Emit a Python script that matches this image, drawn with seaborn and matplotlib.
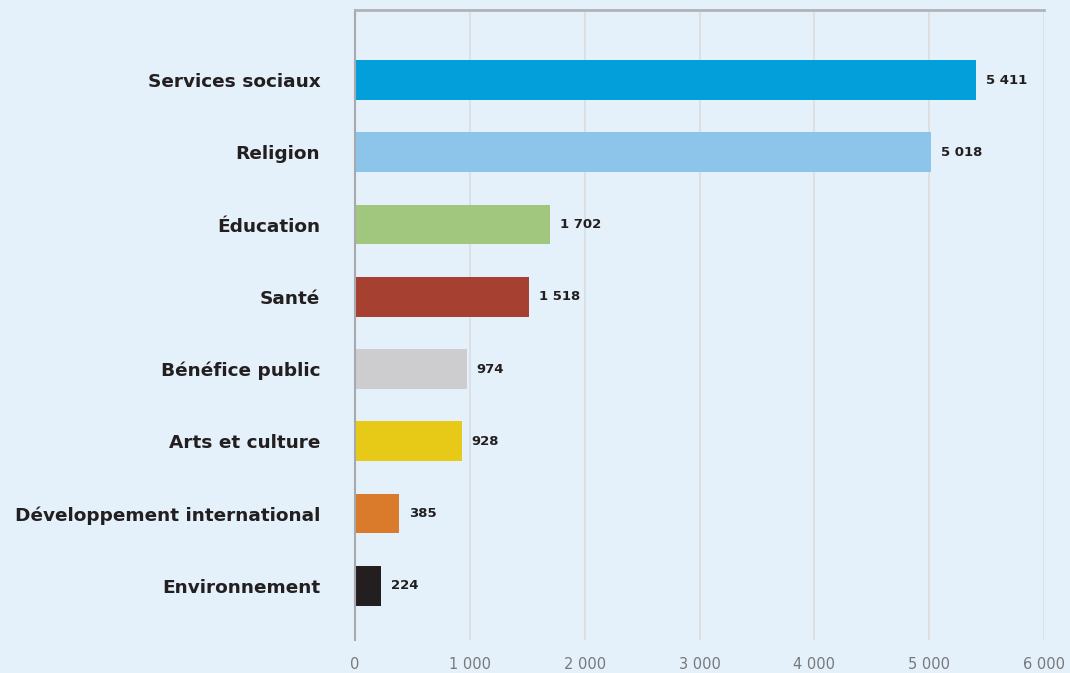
import matplotlib
matplotlib.use("Agg")
import matplotlib.pyplot as plt
import seaborn as sns
import pandas as pd

categories = ["Services sociaux", "Religion", "Éducation", "Santé", "Bénéfice public",
              "Arts et culture", "Développement international", "Environnement"]
values = [5411, 5018, 1702, 1518, 974, 928, 385, 224]
value_labels = ["5 411", "5 018", "1 702", "1 518", "974", "928", "385", "224"]
colors = ["#039FDB", "#8DC4EA", "#A1C77E", "#A64132", "#CDCDCF", "#E6CA17", "#D97B2A", "#231F20"]
ticks = [0, 1000, 2000, 3000, 4000, 5000, 6000]
tick_labels = ["0", "1 000", "2 000", "3 000", "4 000", "5 000", "6 000"]

bg = "#E4F1FA"
sns.set_style("white")
plt.rcParams['font.family'] = ['DejaVu Sans']

df = pd.DataFrame({"cat": categories, "val": values})

fig = plt.figure(figsize=(10.7, 6.73), dpi=100, facecolor=bg)
ax = fig.add_axes([0.3318, 0.049, 0.9757 - 0.3318, 0.9851 - 0.049])
ax.set_facecolor(bg)

sns.barplot(data=df, x="val", y="cat", hue="cat", palette=colors, legend=False,
            width=0.55, saturation=1, linewidth=0, ax=ax)

ax.set_xlim(0, 6000)
ax.set_ylim(7.75, -0.97)
ax.set_xticks(ticks)
ax.set_xticklabels(tick_labels, color="#77787B", fontsize=10.5)
ax.tick_params(axis="x", length=0, pad=12)
ax.tick_params(axis="y", length=0, pad=25)
for lbl in ax.get_yticklabels():
    lbl.set_fontweight("bold")
    lbl.set_fontsize(13.3)
    lbl.set_color("#231F20")

ax.grid(axis="x", color="#DCDDDF", linewidth=1.2)
ax.set_axisbelow(True)
for s in ["right", "bottom"]:
    ax.spines[s].set_visible(False)
ax.spines["left"].set_color("#A7A9AC")
ax.spines["left"].set_linewidth(1.5)
ax.spines["top"].set_color("#B1B3B6")
ax.spines["top"].set_linewidth(2)

for i, (v, t) in enumerate(zip(values, value_labels)):
    ax.text(v + 85, i, t, va="center", ha="left", fontsize=9.5, fontweight="bold", color="#231F20")

ax.set_xlabel("")
ax.set_ylabel("")

fig.savefig("out.png", dpi=100, facecolor=bg)
